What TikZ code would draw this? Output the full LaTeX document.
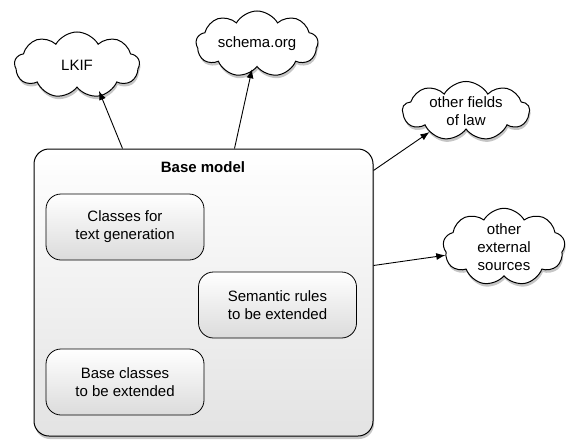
\documentclass[tikz,border=0pt]{standalone}
\usepackage{fontspec}
\setmainfont{Liberation Sans}
\usetikzlibrary{shapes.symbols,shadows,arrows.meta}
\begin{document}
\begin{tikzpicture}[x=1pt,y=-1pt,
  txt/.style={font=\fontsize{15}{18}\selectfont, align=center},
  cloudy/.style={cloud, cloud puffs=9, cloud puff arc=120, cloud ignores aspect,
    draw=black, line width=1pt, fill=white, txt, inner sep=0pt,
    drop shadow={opacity=0.45, shadow xshift=1pt, shadow yshift=-3pt}},
  basebox/.style={draw=black, line width=1pt, rounded corners=15pt,
    top color=white, bottom color=black!11,
    drop shadow={opacity=0.45, shadow xshift=1pt, shadow yshift=-3pt}},
  innerbox/.style={draw=black, line width=0.8pt, rounded corners=15pt,
    top color=white, bottom color=black!14, txt,
    minimum width=158pt, minimum height=66pt},
  arr/.style={line width=0.9pt, -{Latex[length=9pt,width=7pt]}}
]
\useasboundingbox (0,0) rectangle (567,439);

% container
\node[basebox, minimum width=339pt, minimum height=287pt] (base) at (203.5,292.5) {};
\node[font=\fontsize{15}{18}\selectfont\bfseries] (title) at (203,167) {Base model};

% inner classes
\node[innerbox] (gen) at (125,227) {Classes for\\text generation};
\node[innerbox] (rules) at (277.5,305) {Semantic rules\\to be extended};
\node[innerbox] (bcls) at (125,382) {Base classes\\to be extended};

% external vocabularies
\node[cloudy, minimum width=125pt, minimum height=66pt] (lkif) at (77,65) {LKIF};
\node[cloudy, minimum width=122pt, minimum height=66pt] (schema) at (257,44) {schema.org};
\node[cloudy, minimum width=127pt, minimum height=58pt] (law) at (466,111) {other fields\\of law};
\node[cloudy, minimum width=122pt, minimum height=62pt] (ext) at (504,247) {other\\external\\sources};

% links
\draw[arr] ([xshift=89pt]base.north west) -- ([xshift=22pt,yshift=-3pt]lkif.south);
\draw[arr] ([xshift=201pt]base.north west) -- ([xshift=-5pt,yshift=-2pt]schema.south);
\draw[arr] ([yshift=-22pt]base.north east) -- (law.-150);
\draw[arr] ([yshift=-117pt]base.north east) -- (ext.188);
\end{tikzpicture}
\end{document}
